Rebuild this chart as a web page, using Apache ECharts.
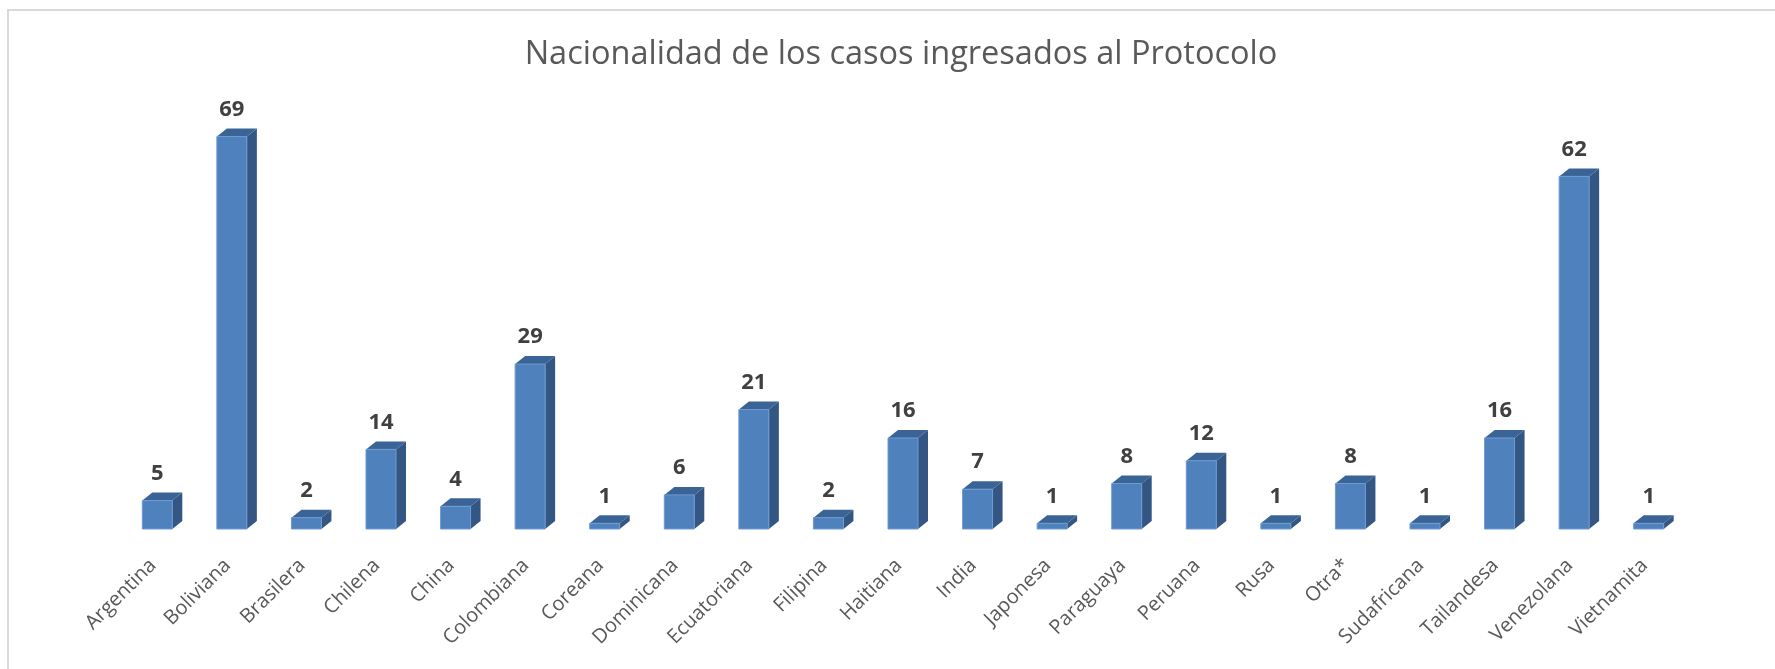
<!DOCTYPE html>
<html>
<head>
<meta charset="utf-8">
<script src="https://cdn.jsdelivr.net/npm/echarts@6/dist/echarts.min.js"></script>
<style>
html,body{margin:0;padding:0;background:#fff;}
#chart{width:1775px;height:669px;}
</style>
</head>
<body>
<div id="chart"></div>
<script>
var titleText = 'Nacionalidad de los casos ingresados al Protocolo';
var categories = ['Argentina','Boliviana','Brasilera','Chilena','China','Colombiana','Coreana','Dominicana','Ecuatoriana','Filipina','Haitiana','India','Japonesa','Paraguaya','Peruana','Rusa','Otra*','Sudafricana','Tailandesa','Venezolana','Vietnamita'];
var values = [5,69,2,14,4,29,1,6,21,2,16,7,1,8,12,1,8,1,16,62,1];

var FRONT = '#4F81BD', TOP = '#3B6496', SIDE = '#335683', EDGE = '#6E9AD2';
var BAR_W = 30, DX = 10, DY = 8;

var chart = echarts.init(document.getElementById('chart'), null, {renderer:'canvas'});
chart.setOption({
  backgroundColor: '#ffffff',
  animation: false,
  title: {
    text: titleText,
    left: 896,
    textAlign: 'center',
    top: 33,
    textStyle: {fontFamily: 'Open Sans', fontWeight: 'normal', fontSize: 32.5, color: '#595959'}
  },
  graphic: [{
    type: 'rect', silent: true, z: -10,
    shape: {x: 8, y: 10, width: 1800, height: 700},
    style: {fill: null, stroke: '#d9d9d9', lineWidth: 2}
  }],
  grid: {left: 120, right: 89, top: 74, bottom: 140, containLabel: false},
  xAxis: {
    type: 'category',
    data: categories,
    axisLine: {show: false},
    axisTick: {show: false},
    axisLabel: {rotate: 45, margin: 29, interval: 0, padding: [0, 6, 0, 0], fontFamily: 'Open Sans', fontSize: 20, color: '#595959'}
  },
  yAxis: {
    type: 'value', min: 0, max: 80, show: false,
    splitLine: {show: false}
  },
  series: [{
    type: 'custom',
    data: values.map(function(v, i){ return [i, v]; }),
    encode: {x: 0, y: 1},
    renderItem: function(params, api){
      var c = api.coord([api.value(0), api.value(1)]);
      var b = api.coord([api.value(0), 0]);
      var x0 = c[0] - BAR_W/2, x1 = c[0] + BAR_W/2, yt = c[1], yb = b[1];
      return {type: 'group', children: [
        {type: 'polygon', shape: {points: [[x1, yb], [x1 + DX, yb - DY], [x1 + DX, yt - DY], [x1, yt]]}, style: {fill: SIDE}},
        {type: 'polygon', shape: {points: [[x0, yt], [x0 + DX, yt - DY], [x1 + DX, yt - DY], [x1, yt]]}, style: {fill: TOP}},
        {type: 'rect', shape: {x: x0, y: yt, width: BAR_W, height: yb - yt}, style: {fill: FRONT, stroke: EDGE, lineWidth: 1}},
        {type: 'text', style: {text: String(api.value(1)), x: c[0], y: yt - 27, align: 'center', verticalAlign: 'middle',
          fontFamily: 'Open Sans', fontWeight: 'bold', fontSize: 22, fill: '#404040'}}
      ]};
    }
  }]
});
</script>
</body>
</html>
